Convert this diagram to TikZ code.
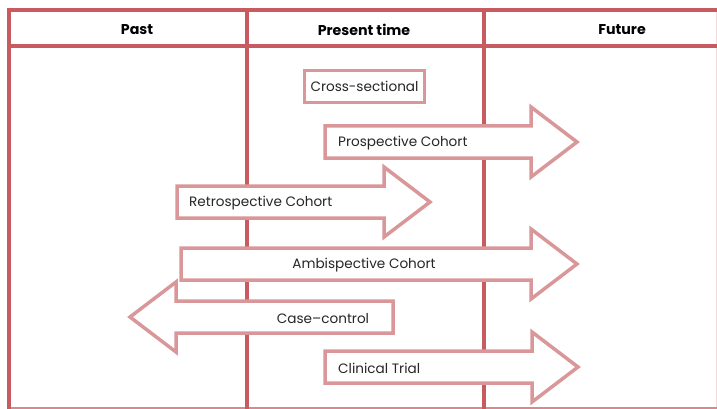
\documentclass[tikz,border=0pt]{standalone}
\usepackage{fontspec}
\setmainfont{Poppins}
\definecolor{gridred}{HTML}{C75B60}
\definecolor{arrowpink}{HTML}{D9979A}
\definecolor{lightpink}{HTML}{F6DADB}
\tikzset{
  gridline/.style={draw=gridred, line width=4pt},
  bigarrow/.style={draw=arrowpink, line width=3.5pt, fill=white, line join=miter},
  lbl/.style={font=\fontsize{13.6}{16}\selectfont, text=black!85, inner sep=0pt},
  hdr/.style={font=\fontsize{14.2}{16}\selectfont\bfseries, text=black, inner sep=0pt},
}
% right arrow: #1 = body left x, #2 = tip x, #3 = centre y
\newcommand{\rightblock}[3]{%
  \path[bigarrow] (#1,#3-16) -- (#2-46,#3-16) -- (#2-46,#3-35) -- (#2,#3)
    -- (#2-46,#3+35) -- (#2-46,#3+16) -- (#1,#3+16) -- cycle;}
% left arrow: #1 = tip x, #2 = body right x, #3 = centre y
\newcommand{\leftblock}[3]{%
  \path[bigarrow] (#2,#3-16) -- (#1+46,#3-16) -- (#1+46,#3-35) -- (#1,#3)
    -- (#1+46,#3+35) -- (#1+46,#3+16) -- (#2,#3+16) -- cycle;}
\begin{document}
\begin{tikzpicture}[x=1pt,y=-1pt]
\useasboundingbox (0,0) rectangle (717,409);
% table
\draw[lightpink, line width=1pt] (716.5,8) -- (716.5,409);
\draw[draw=arrowpink!80!gridred, line width=2pt] (7,407.5) -- (717,407.5);
\draw[gridline] (9,8) -- (9,409);
\draw[gridline] (247,8) -- (247,409);
\draw[gridline] (484,8) -- (484,409);
\draw[gridline] (7,10) -- (717,10);
\draw[gridline] (7,46) -- (717,46);
\node[hdr] (past) at (137,29.5) {Past};
\node[hdr] (present) at (364,29.5) {Present time};
\node[hdr] (future) at (622,29.5) {Future};
% cross-sectional
\node[lbl, draw=arrowpink, line width=3.5pt, fill=white, minimum width=120pt, minimum height=32pt] (cross) at (364.5,86.5) {Cross-sectional};
% arrows
\rightblock{325}{577}{142}
\node[lbl, anchor=west] (prosp) at (338,143.5) {Prospective Cohort};
\rightblock{177}{430}{202}
\node[lbl, anchor=west] (retro) at (189,203.5) {Retrospective Cohort};
\rightblock{181}{577}{264}
\node[lbl] (ambi) at (364,265.5) {Ambispective Cohort};
\leftblock{130}{393}{317}
\node[lbl] (case) at (323,318.5) {Case–control};
\rightblock{325}{578}{367}
\node[lbl, anchor=west] (clin) at (338,368.5) {Clinical Trial};
\end{tikzpicture}
\end{document}
